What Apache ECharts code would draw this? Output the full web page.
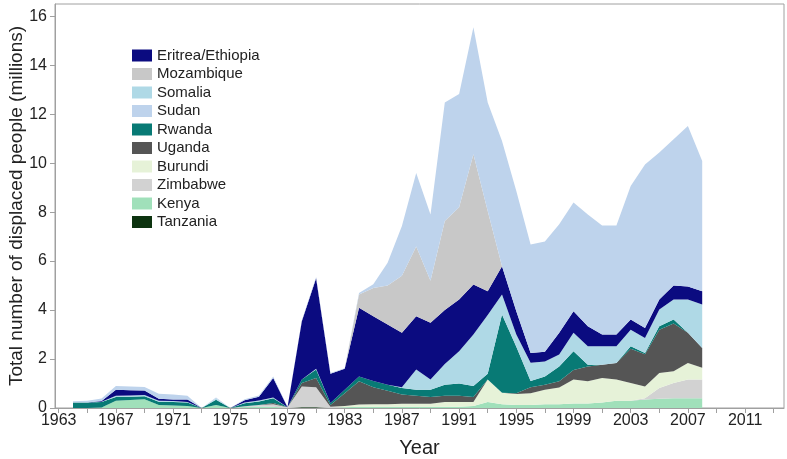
<!DOCTYPE html>
<html><head><meta charset="utf-8">
<script src="https://cdn.jsdelivr.net/npm/echarts@6/dist/echarts.min.js"></script>
<style>html,body{margin:0;padding:0;background:#fff}#c{width:787px;height:459px}</style>
</head><body><div id="c"></div>
<script>
const years = [];
for (let y = 1964; y <= 2008; y++) years.push(y);

// values in millions, 1964..2008
const tanzania   = [0,0,0,0,0,0,0,0,0,0, 0,0,0,0,0,0,0.03,0.03,0,0, 0,0,0,0,0,0,0,0,0,0, 0,0,0,0,0,0,0,0,0,0, 0,0,0,0,0];
const kenya      = [0,0,0.02,0.3,0.33,0.36,0.12,0.1,0.08,0, 0.12,0,0.04,0.06,0.05,0,0,0,0,0.03, 0.05,0.05,0.05,0.05,0.05,0.05,0.05,0.05,0.08,0.25, 0.15,0.12,0.12,0.15,0.15,0.18,0.18,0.22,0.3,0.3, 0.35,0.38,0.4,0.4,0.4];
const zimbabwe   = [0,0,0,0,0,0,0,0,0,0, 0,0,0.03,0.06,0.1,0.03,0.85,0.82,0.05,0, 0,0,0,0,0,0,0,0,0,0, 0,0,0,0,0,0,0,0,0,0, 0.05,0.44,0.62,0.76,0.76];
const burundi    = [0,0,0,0,0,0,0,0,0,0, 0,0,0,0,0,0,0,0,0,0.05, 0.09,0.1,0.1,0.12,0.12,0.12,0.2,0.2,0.17,0.91, 0.47,0.45,0.48,0.6,0.69,0.98,0.91,1.01,0.86,0.72, 0.48,0.61,0.48,0.68,0.48];
const uganda     = [0,0,0,0,0,0,0,0,0,0, 0,0,0,0,0.05,0,0.14,0.38,0.07,0.52, 0.95,0.7,0.55,0.38,0.33,0.28,0.25,0.25,0.2,0, 0,0.03,0.25,0.2,0.25,0.39,0.61,0.54,0.68,1.4, 1.32,1.77,1.95,1.23,0.81];
const rwanda     = [0.22,0.22,0.22,0.15,0.13,0.12,0.14,0.15,0.14,0, 0.22,0,0.12,0.15,0.2,0,0.14,0.34,0.08,0.15, 0.2,0.25,0.25,0.27,0.25,0.3,0.45,0.5,0.45,0.24, 3.2,1.9,0.25,0.34,0.61,0.77,0.07,0,0,0.1, 0.05,0.14,0.16,0,0];
const somalia    = [0,0,0.02,0.05,0.05,0.05,0.04,0.04,0.03,0, 0.05,0,0.03,0.04,0.03,0,0,0.03,0,0, 0,0,0,0.03,0.82,0.41,0.85,1.32,2.1,2.4, 0.82,0.5,0.75,0.61,0.48,0.75,0.75,0.75,0.68,0.68, 0.61,0.68,0.82,1.36,1.78];
const eritrea    = [0,0,0.03,0.25,0.22,0.18,0.08,0.06,0.1,0, 0,0,0.1,0.15,0.8,0,2.38,3.7,1.2,0.85, 2.8,2.65,2.46,2.22,2.18,2.32,2.2,2.11,2.04,0.97, 1.15,0.95,0.4,0.4,0.89,0.88,0.82,0.48,0.48,0.41, 0.41,0.41,0.57,0.53,0.54];
const mozambique = [0,0,0,0,0,0,0,0,0,0, 0,0,0,0,0,0,0,0,0,0, 0.55,1.15,1.59,2.33,2.85,1.72,3.64,3.77,5.32,3.28, 0,0,0,0,0,0,0,0,0,0, 0,0,0,0,0];
const sudan      = [0.06,0.08,0.1,0.15,0.15,0.15,0.2,0.2,0.15,0, 0.04,0,0.04,0.05,0.06,0,0.03,0.05,0.03,0.02, 0.06,0.15,0.93,2.03,3.0,2.7,4.84,4.62,5.19,4.43, 5.11,4.91,4.43,4.5,4.43,4.44,4.56,4.45,4.45,5.46, 6.68,6.0,5.98,6.56,5.32];

const yTicks = [0,2,4,6,8,10,12,14,16];
const xLabels = [1963,1967,1971,1975,1979,1983,1987,1991,1995,1999,2003,2007,2011];
const xTicks = [];
for (let y = 1963; y <= 2013; y += 2) xTicks.push(y);

const legendOrder = ['Eritrea/Ethiopia','Mozambique','Somalia','Sudan','Rwanda','Uganda','Burundi','Zimbabwe','Kenya','Tanzania'];

const stackDefs = [
  ['Tanzania', tanzania, '#0d330f'],
  ['Kenya', kenya, '#a0e0ba'],
  ['Zimbabwe', zimbabwe, '#d2d2d2'],
  ['Burundi', burundi, '#e6f2d8'],
  ['Uganda', uganda, '#555555'],
  ['Rwanda', rwanda, '#087a75'],
  ['Somalia', somalia, '#afd9e6'],
  ['Eritrea/Ethiopia', eritrea, '#0b0b80'],
  ['Mozambique', mozambique, '#c8c8c8'],
  ['Sudan', sudan, '#bed3ec']
];

const font = 'Liberation Sans, Arial, sans-serif';
const chart = echarts.init(document.getElementById('c'));
chart.setOption({
  animation: false,
  backgroundColor: '#fff',
  grid: { left: 55, right: 3, top: 4, bottom: 51, show: true, borderColor: '#a0a0a0', borderWidth: 1,
          containLabel: false, outerBoundsMode: 'none' },
  legend: {
    orient: 'vertical', left: 132, top: 48, padding: 0,
    itemWidth: 20, itemHeight: 12, itemGap: 3.5, icon: 'rect',
    data: legendOrder,
    textStyle: { fontSize: 15, color: '#222', fontFamily: font }
  },
  xAxis: {
    type: 'value', min: 1962.74, max: 2013.72,
    name: 'Year', nameLocation: 'middle', nameGap: 30,
    nameTextStyle: { fontSize: 20, color: '#222', fontFamily: font },
    axisLine: { show: true, lineStyle: { color: '#a0a0a0' } },
    axisTick: { show: true, length: 5, customValues: xTicks, lineStyle: { color: '#a0a0a0' } },
    axisLabel: { customValues: xLabels, fontSize: 16, color: '#222', margin: 5, fontFamily: font,
                 formatter: v => String(v) },
    splitLine: { show: false }
  },
  yAxis: {
    type: 'value', min: 0, max: 16.5,
    name: 'Total number of displaced people (millions)', nameLocation: 'middle', nameGap: 29,
    nameMoveOverlap: false,
    nameTextStyle: { fontSize: 19, color: '#222', fontFamily: font },
    axisLine: { show: true, lineStyle: { color: '#a0a0a0' } },
    axisTick: { show: true, length: 5, customValues: yTicks, lineStyle: { color: '#a0a0a0' } },
    axisLabel: { customValues: yTicks, fontSize: 16, color: '#222', margin: 8, fontFamily: font },
    splitLine: { show: false }
  },
  series: stackDefs.map(([name, vals, color]) => ({
    name, type: 'line', stack: 'all', symbol: 'none', smooth: false,
    data: years.map((y, i) => [vals[i], y]),
    encode: { x: 1, y: 0 },
    lineStyle: { width: 0, color },
    itemStyle: { color },
    areaStyle: { color, opacity: 1 }
  }))
});
</script>
</body></html>
